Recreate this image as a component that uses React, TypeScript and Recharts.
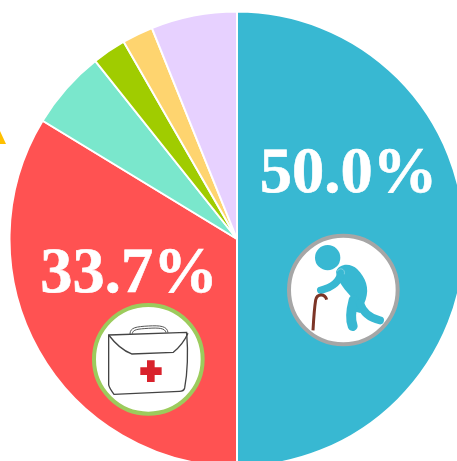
import React from 'react';
import { PieChart, Pie, Cell } from 'recharts';

const categories = ['Elderly', 'Medical', 'Group C', 'Group D', 'Group E', 'Group F'];
const shares = [50.0, 33.7, 5.6, 2.4, 2.2, 6.1];
const colors = ['#38b8d2', '#ff5252', '#7ae7cc', '#a0cc00', '#fed46f', '#e7d1ff'];

const chartData = categories.map((name, i) => ({ name, value: shares[i] }));

const labelStyle: React.CSSProperties = {
  fontFamily: '"Liberation Serif", serif',
  fontWeight: 700,
  fontSize: 64.5,
  fill: '#ffffff',
  stroke: '#ffffff',
  strokeWidth: 0.6,
  textRendering: 'geometricPrecision'
};

const OldManIcon = () => (
  <g transform="translate(275 225) scale(0.3333)">
    <circle cx={205} cy={195} r={163} fill="#ffffff" stroke="#a6a6a6" strokeWidth={12} />
    <circle cx={158} cy={98} r={38} fill="#38b8d2" />
    <path
      d="M183 140 C193 114 228 114 247 133 C272 158 284 190 272 224 L256 264 L222 255 L230 217 C213 197 188 172 183 140 Z"
      fill="#38b8d2"
    />
    <path d="M236 225 C228 255 226 285 233 303" fill="none" stroke="#38b8d2" strokeWidth={30} strokeLinecap="round" />
    <path d="M255 235 C265 265 285 280 315 286" fill="none" stroke="#38b8d2" strokeWidth={24} strokeLinecap="round" />
    <path d="M197 143 C195 165 180 185 137 196" fill="none" stroke="#38b8d2" strokeWidth={22} strokeLinecap="round" />
    <path d="M186 140 C192 126 212 130 208 148" fill="none" stroke="#9fdde9" strokeWidth={2} />
    <path d="M114 316 C116 280 118 250 122 225 C126 205 150 205 155 224" fill="none" stroke="#7c3527" strokeWidth={9} />
  </g>
);

const MedicalCaseIcon = () => (
  <g transform="translate(80 290) scale(0.3333)">
    <circle cx={205} cy={208} r={163} fill="#ffffff" stroke="#9ccb5c" strokeWidth={12} />
    <path
      d="M150 132 C150 112 170 110 205 108 C240 106 262 108 264 128 M157 131 C158 118 175 117 205 115 C235 113 256 114 258 128"
      fill="none"
      stroke="#555555"
      strokeWidth={3}
    />
    <path
      d="M86 135 L320 127 C324 180 322 250 314 294 C312 302 305 304 298 304 L102 313 C92 300 87 290 86 285 Z"
      fill="#ffffff"
      stroke="#444444"
      strokeWidth={4}
    />
    <path d="M86 135 C105 160 130 182 155 192 L280 187 C295 175 315 150 324 130" fill="none" stroke="#444444" strokeWidth={4} />
    <path
      d="M201 211 H224 V232 H245 V255 H224 V276 H201 V255 H181 V232 H201 Z"
      fill="#d9222c"
    />
  </g>
);

// only the two big slices carry a percentage and an icon
const renderSliceLabel = ({ index }: any) => {
  if (index === 0) {
    return (
      <g>
        <OldManIcon />
        <text x={348.5} y={192} textAnchor="middle" style={labelStyle}>{shares[0].toFixed(1)}%</text>
      </g>
    );
  }
  if (index === 1) {
    return (
      <g>
        <MedicalCaseIcon />
        <text x={129} y={292} textAnchor="middle" style={labelStyle}>{shares[1].toFixed(1)}%</text>
      </g>
    );
  }
  return <g />;
};

const App: React.FC = () => {
  return (
    <div style={{ position: 'fixed', left: 0, top: 0, width: 457, height: 461, overflow: 'hidden', background: '#ffffff' }}>
      <PieChart width={457} height={461} margin={{ top: 0, right: 0, bottom: 0, left: 0 }}>
        <polygon points="-2,144 6,144 0,131" fill="#ffc000" />
        <Pie
          data={chartData}
          dataKey="value"
          nameKey="name"
          cx={237}
          cy={239}
          innerRadius={0}
          outerRadius={227.5}
          startAngle={90}
          endAngle={-270}
          stroke="#ffffff"
          strokeWidth={2}
          label={renderSliceLabel}
          labelLine={false}
          isAnimationActive={false}
        >
          {chartData.map((entry, index) => (
            <Cell key={entry.name} fill={colors[index]} />
          ))}
        </Pie>
      </PieChart>
    </div>
  );
};

export default App;
